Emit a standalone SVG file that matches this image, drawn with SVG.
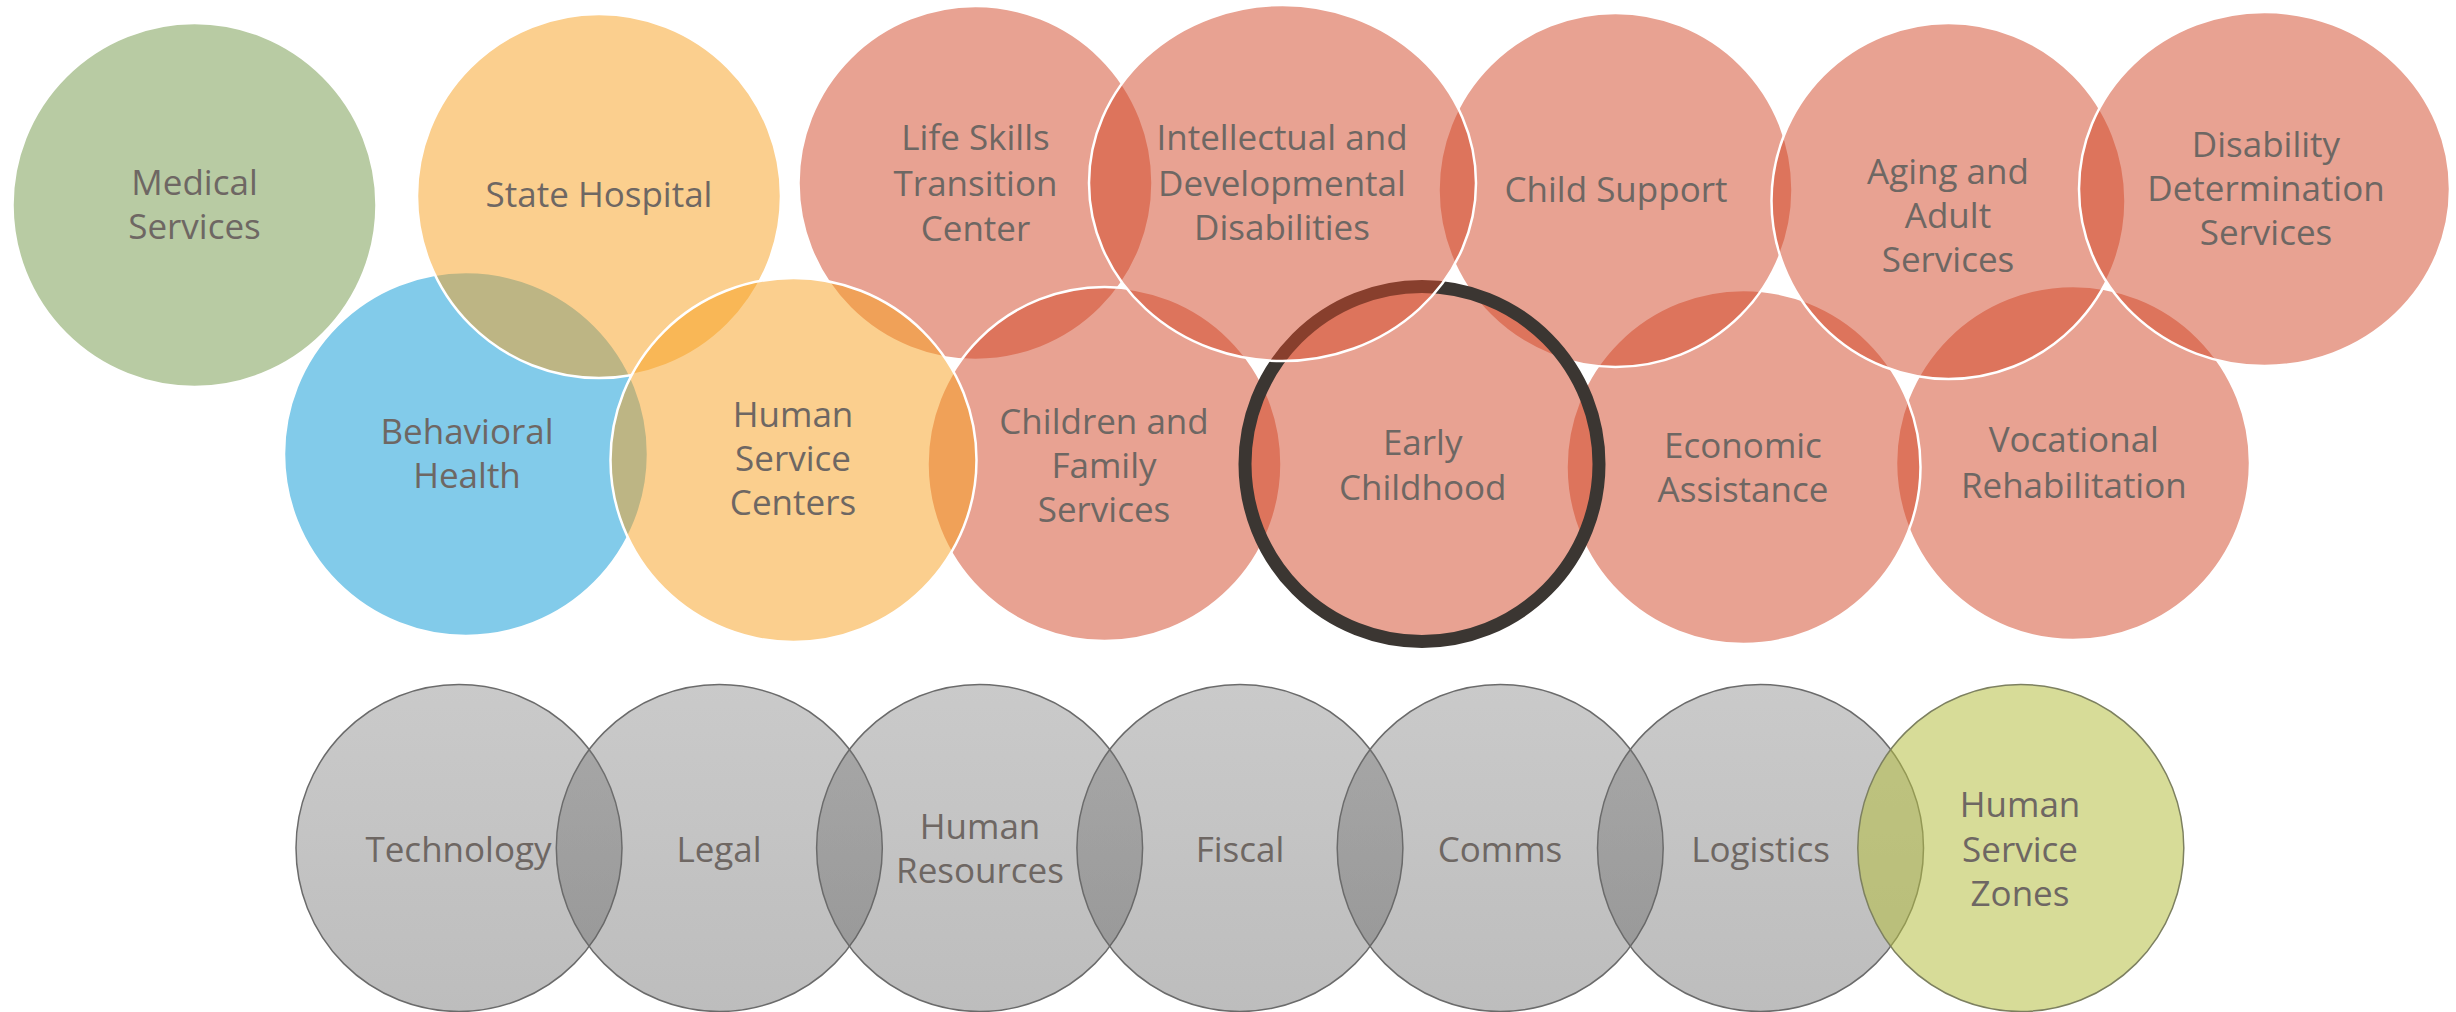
<svg xmlns="http://www.w3.org/2000/svg" width="2456" height="1012" viewBox="0 0 2456 1012">
<defs>
<linearGradient id="gray" x1="0" y1="0" x2="0" y2="1">
<stop offset="0" stop-color="#7a7a7a"/>
<stop offset="1" stop-color="#5a5a5a"/>
</linearGradient>
<style>
.t{font-family:"Open Sans","Noto Sans","Liberation Sans",sans-serif;font-size:35px;fill:#6e6763;text-anchor:middle}
.w{stroke:#ffffff;stroke-width:2.5;fill-opacity:0.51}
.sal{fill:#d2492a}
.yel{fill:#f7a121}
.blu{fill:#0a99d6}
.grn{fill:#74994a}
.g{fill:url(#gray);fill-opacity:0.4;stroke:#6b6b6b;stroke-width:1.5}
.z{fill:#b5be40;fill-opacity:0.54;stroke:#7d8060;stroke-width:1.5}
</style>
</defs>
<rect width="2456" height="1012" fill="#ffffff"/>
<g id="medical-services">
<ellipse class="w grn" cx="194.5" cy="205" rx="182" ry="182"/>
<text class="t" x="194.5" y="195">Medical</text>
<text class="t" x="194.5" y="239">Services</text>
</g>
<g id="behavioral-health">
<ellipse class="w blu" cx="466" cy="454" rx="182" ry="182"/>
<text class="t" x="467" y="443.5">Behavioral</text>
<text class="t" x="467" y="487.5">Health</text>
</g>
<g id="state-hospital">
<ellipse class="w yel" cx="599" cy="196" rx="182" ry="182"/>
<text class="t" x="599" y="207">State Hospital</text>
</g>
<g id="life-skills">
<ellipse class="w sal" cx="975.5" cy="183" rx="177" ry="177"/>
<text class="t" x="975.5" y="150">Life Skills</text>
<text class="t" x="975.5" y="196">Transition</text>
<text class="t" x="975.5" y="241">Center</text>
</g>
<g id="children-family">
<ellipse class="w sal" cx="1104.5" cy="464" rx="177" ry="177"/>
<text class="t" x="1104" y="433.5">Children and</text>
<text class="t" x="1104" y="478">Family</text>
<text class="t" x="1104" y="522">Services</text>
</g>
<g id="human-service-centers">
<ellipse class="w yel" cx="793.5" cy="460" rx="183" ry="182"/>
<text class="t" x="793" y="427">Human</text>
<text class="t" x="793" y="471">Service</text>
<text class="t" x="793" y="515">Centers</text>
</g>
<g id="vocational-rehabilitation">
<ellipse class="w sal" cx="2073" cy="463" rx="177" ry="177"/>
<text class="t" x="2073.8" y="452.4">Vocational</text>
<text class="t" x="2073.8" y="498">Rehabilitation</text>
</g>
<g id="economic-assistance">
<ellipse class="w sal" cx="1743.5" cy="467" rx="177" ry="177"/>
<text class="t" x="1743" y="457.5">Economic</text>
<text class="t" x="1743" y="501.7">Assistance</text>
</g>
<g id="child-support">
<ellipse class="w sal" cx="1615.5" cy="190" rx="177" ry="177"/>
<text class="t" x="1616" y="202">Child Support</text>
</g>
<g id="early-childhood">
<ellipse class="sal" fill-opacity="0.51" stroke="#3b3632" stroke-width="13" cx="1422" cy="464" rx="177" ry="177.5"/>
<text class="t" x="1422.7" y="454.5">Early</text>
<text class="t" x="1422.7" y="499.6">Childhood</text>
</g>
<g id="intellectual-developmental">
<ellipse class="w sal" cx="1282.5" cy="183" rx="193.5" ry="178"/>
<text class="t" x="1282" y="150">Intellectual and</text>
<text class="t" x="1282" y="196">Developmental</text>
<text class="t" x="1282" y="240">Disabilities</text>
</g>
<g id="aging-adult">
<ellipse class="w sal" cx="1948.5" cy="201" rx="177" ry="178"/>
<text class="t" x="1948" y="184">Aging and</text>
<text class="t" x="1948" y="228">Adult</text>
<text class="t" x="1948" y="272">Services</text>
</g>
<g id="disability-determination">
<ellipse class="w sal" cx="2264.5" cy="189" rx="185.5" ry="177"/>
<text class="t" x="2266" y="157">Disability</text>
<text class="t" x="2266" y="201">Determination</text>
<text class="t" x="2266" y="245">Services</text>
</g>
<g id="technology">
<ellipse class="g" cx="459" cy="848" rx="163" ry="163.5"/>
<text class="t" x="458.5" y="861.7">Technology</text>
</g>
<g id="legal">
<ellipse class="g" cx="719.3" cy="848" rx="163" ry="163.5"/>
<text class="t" x="719" y="861.7">Legal</text>
</g>
<g id="human-resources">
<ellipse class="g" cx="979.6" cy="848" rx="163" ry="163.5"/>
<text class="t" x="980" y="839">Human</text>
<text class="t" x="980" y="883">Resources</text>
</g>
<g id="fiscal">
<ellipse class="g" cx="1239.9" cy="848" rx="163" ry="163.5"/>
<text class="t" x="1240" y="861.7">Fiscal</text>
</g>
<g id="comms">
<ellipse class="g" cx="1500.2" cy="848" rx="163" ry="163.5"/>
<text class="t" x="1500" y="861.7">Comms</text>
</g>
<g id="logistics">
<ellipse class="g" cx="1760.5" cy="848" rx="163" ry="163.5"/>
<text class="t" x="1760.6" y="861.7">Logistics</text>
</g>
<g id="human-service-zones">
<ellipse class="z" cx="2020.8" cy="848" rx="163" ry="163.5"/>
<text class="t" x="2020" y="816.7">Human</text>
<text class="t" x="2020" y="861.7">Service</text>
<text class="t" x="2020" y="906">Zones</text>
</g>
<g id="connectors"></g>
</svg>
